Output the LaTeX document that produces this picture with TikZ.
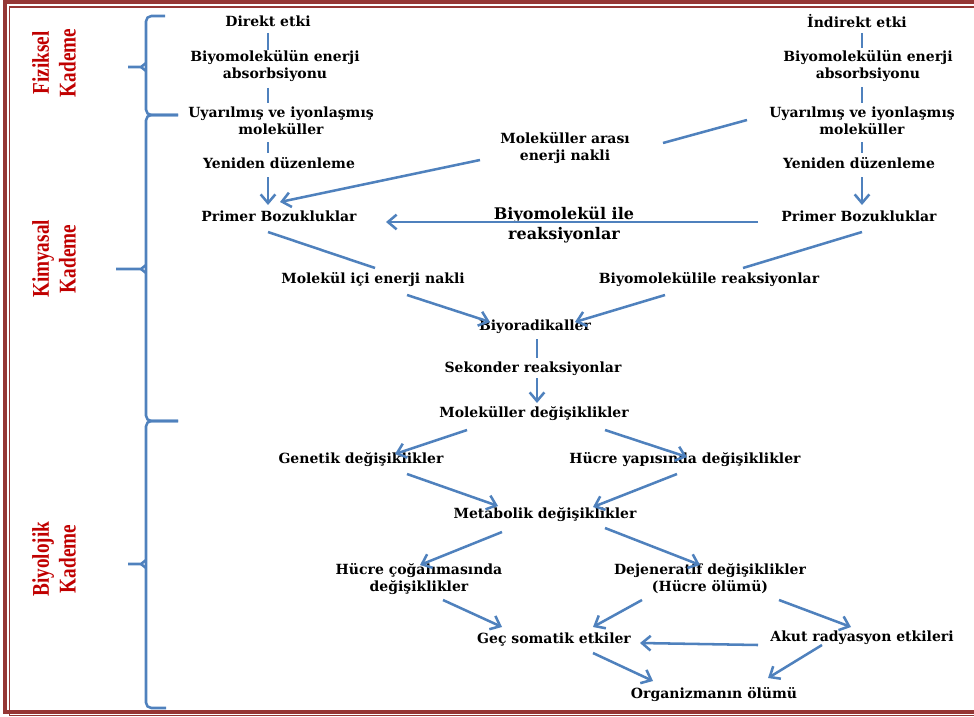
\documentclass[tikz,border=0pt]{standalone}
\usepackage{fontspec}
\setmainfont{DejaVu Serif}
\newfontfamily\kadfont{Liberation Serif}[FakeStretch=0.8]
\usepackage{xcolor}
\usetikzlibrary{arrows.meta,calc}
\definecolor{okmavi}{RGB}{79,129,189}
\definecolor{kenar}{RGB}{149,55,53}
\definecolor{kirmizi}{RGB}{192,0,0}

\begin{document}
\begin{tikzpicture}[x=0.75pt,y=-0.75pt,>={Straight Barb[length=6.5pt,width=11pt]},
    yazi/.style={font=\bfseries\fontsize{10.5}{12.75}\selectfont,align=center,inner sep=0pt},
    buyuk/.style={yazi,font=\bfseries\fontsize{12}{15}\selectfont},
    kademe/.style={font=\kadfont\bfseries\fontsize{18}{20}\selectfont,text=kirmizi,rotate=90,align=center},
    hat/.style={okmavi,line width=1.9pt},
    ok/.style={hat,->},
    parantez/.style={hat,rounded corners=4pt}]

    % sayfa
    \useasboundingbox (0,0) rectangle (974,717);
    \clip (0,0) rectangle (974,717);
    \draw[kenar,line width=3pt] (5,2.5) rectangle (1010,712);
    \draw[kenar,line width=1.2pt] (9.5,7) rectangle (1010,715.5);

    % kademeler
    \node[kademe] (fiz) at (54,63) {Fiziksel\\Kademe};
    \node[kademe] (kim) at (54,259) {Kimyasal\\Kademe};
    \node[kademe] (biy) at (54,559) {Biyolojik\\Kademe};

    % parantezler
    \draw[parantez] (165,16) -- (146,16) -- (146,115) -- (178,115);
    \draw[parantez] (178,115) -- (146,115) -- (146,421) -- (178,421);
    \draw[parantez] (178,421) -- (146,421) -- (146,708) -- (166,708);
    \foreach \y/\x in {67/128, 269/116, 564/128} {
        \draw[hat] (\x,\y) -- (141,\y) -- (146,{\y-4});
        \draw[hat] (141,\y) -- (146,{\y+4});
    }

    % sol sutun
    \node[yazi] (direktL) at (268,21) {Direkt etki};
    \node[yazi] (absL) at (275,66) {Biyomolekülün enerji\\absorbsiyonu};
    \node[yazi] (uyarL) at (281,121) {Uyarılmış ve iyonlaşmış\\moleküller};
    \node[yazi] (yenL) at (279,163) {Yeniden düzenleme};
    \node[yazi] (primL) at (279,216) {Primer Bozukluklar};

    % sag sutun
    \node[yazi] (direktR) at (857,21) {İndirekt etki};
    \node[yazi] (absR) at (868,66) {Biyomolekülün enerji\\absorbsiyonu};
    \node[yazi] (uyarR) at (862,121) {Uyarılmış ve iyonlaşmış\\moleküller};
    \node[yazi] (yenR) at (859,163) {Yeniden düzenleme};
    \node[yazi] (primR) at (859,216) {Primer Bozukluklar};

    % orta
    \node[yazi] (arasi) at (565,148) {Moleküller arası\\enerji nakli};
    \node[buyuk] (biyoile) at (564,225) {Biyomolekül ile\\reaksiyonlar};
    \node[yazi] (icL) at (373,280) {Molekül içi enerji nakli};
    \node[yazi] (reakR) at (709,280) {Biyomolekülile reaksiyonlar};
    \node[yazi] (radikal) at (535,327) {Biyoradikaller};
    \node[yazi] (sekonder) at (533,369) {Sekonder reaksiyonlar};
    \node[yazi] (molDeg) at (534,414) {Moleküller değişiklikler};
    \node[yazi] (genetik) at (361,460) {Genetik değişiklikler};
    \node[yazi] (hucreYap) at (685,460) {Hücre yapısında değişiklikler};
    \node[yazi] (metab) at (545,515) {Metabolik değişiklikler};
    \node[yazi] (cogalim) at (419,579) {Hücre çoğalımasında\\değişiklikler};
    \node[yazi] (dejen) at (710,579) {Dejeneratif değişiklikler\\(Hücre ölümü)};
    \node[yazi] (gec) at (554,640) {Geç somatik etkiler};
    \node[yazi] (akut) at (862,638) {Akut radyasyon etkileri};
    \node[yazi] (organ) at (714,695) {Organizmanın ölümü};

    % sol oklar
    \draw[hat] ($(direktL)+(0,12)$) -- ($(absL)+(-7,-16)$);
    \draw[hat] ($(absL)+(-7,22)$) -- ($(uyarL)+(-13,-18)$);
    \draw[hat] ($(uyarL)+(-13,21)$) -- ($(yenL)+(-11,-10)$);
    \draw[ok] ($(yenL)+(-11,14)$) -- ($(primL)+(-11,-11)$);

    % sag oklar
    \draw[hat] ($(direktR)+(5,12)$) -- ($(absR)+(-6,-18)$);
    \draw[hat] ($(absR)+(-6,21)$) -- ($(uyarR)+(0,-18)$);
    \draw[hat] ($(uyarR)+(0,21)$) -- ($(yenR)+(3,-10)$);
    \draw[ok] ($(yenR)+(3,14)$) -- ($(primR)+(3,-11)$);

    % capraz
    \draw[hat] ($(uyarR)+(-115,-1)$) -- ($(arasi)+(98,-5)$);
    \draw[ok] ($(arasi)+(-85,12)$) -- ($(primL)+(1,-14)$);
    \draw[ok] ($(primR)+(-101,6)$) -- ($(primL)+(107,6)$);
    \draw[hat] ($(primL)+(-11,16)$) -- ($(icL)+(2,-12)$);
    \draw[ok] ($(icL)+(34,15)$) -- ($(radikal)+(-45,-5)$);
    \draw[hat] ($(primR)+(3,16)$) -- ($(reakR)+(34,-12)$);
    \draw[ok] ($(reakR)+(-44,15)$) -- ($(radikal)+(40,-5)$);
    \draw[hat] ($(radikal)+(2,12)$) -- ($(sekonder)+(4,-11)$);
    \draw[ok] ($(sekonder)+(4,9)$) -- ($(molDeg)+(3,-11)$);

    % biyolojik
    \draw[ok] ($(molDeg)+(-67,16)$) -- ($(genetik)+(34,-6)$);
    \draw[ok] ($(molDeg)+(71,16)$) -- ($(hucreYap)+(2,-3)$);
    \draw[ok] ($(genetik)+(46,14)$) -- ($(metab)+(-47,-9)$);
    \draw[ok] ($(hucreYap)+(-8,14)$) -- ($(metab)+(48,-8)$);
    \draw[ok] ($(metab)+(-43,17)$) -- ($(cogalim)+(1,-14)$);
    \draw[ok] ($(metab)+(60,13)$) -- ($(dejen)+(-10,-14)$);
    \draw[ok] ($(cogalim)+(24,21)$) -- ($(gec)+(-52,-13)$);
    \draw[ok] ($(dejen)+(-68,21)$) -- ($(gec)+(39,-13)$);
    \draw[ok] ($(dejen)+(69,21)$) -- ($(akut)+(-11,-11)$);
    \draw[ok] ($(akut)+(-104,7)$) -- ($(gec)+(86,3)$);
    \draw[ok] ($(gec)+(39,13)$) -- ($(organ)+(-61,-14)$);
    \draw[ok] ($(akut)+(-40,7)$) -- ($(organ)+(54,-17)$);

\end{tikzpicture}
\end{document}
